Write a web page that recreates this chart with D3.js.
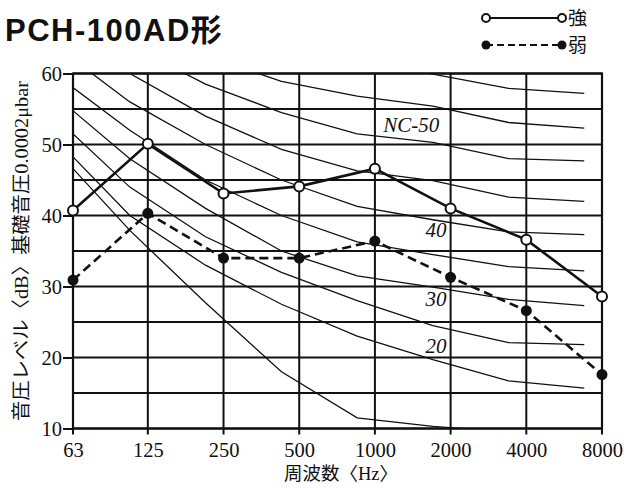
<!DOCTYPE html>
<html>
<head>
<meta charset="utf-8">
<script src="https://cdn.jsdelivr.net/npm/d3@7"></script>
<style>
  html, body { margin: 0; padding: 0; background: #ffffff; }
  svg { display: block; }
</style>
</head>
<body>
<svg id="chart" width="628" height="488"></svg>
<script>
// ---------- data ----------
const freqTicks = [63, 125, 250, 500, 1000, 2000, 4000, 8000];
const freqTickLabels = ["63", "125", "250", "500", "1000", "2000", "4000", "8000"];
const dbTicks = [10, 20, 30, 40, 50, 60];
const dbGrid = [15, 25, 35, 45, 55];

const seriesNames = ["強", "弱"];
const strongValues = [40.7, 50.1, 43.1, 44.1, 46.6, 41.0, 36.6, 28.6];
const weakValues   = [30.9, 40.3, 34.0, 34.0, 36.4, 31.3, 26.6, 17.6];

// NC curves (plotted at old octave-band centre frequencies)
const ncFreqs = [53, 106, 212, 425, 850, 1700, 3400, 6800];
const nc60 = [78, 72, 67, 64, 62, 59.9, 57.9, 57.2];
const nc55 = [74, 67, 62.5, 58.9, 56.8, 55.4, 53.1, 52.3];
const nc50 = [71, 64, 58.5, 54.5, 51.5, 50.3, 48.0, 47.7];
const nc45 = [67, 60, 54, 49.3, 46.3, 44.9, 42.6, 42.0];
const nc40 = [64, 56, 50, 45, 41.3, 39.4, 37.7, 37.3];
const nc35 = [60, 52, 45, 40, 36.3, 34.5, 32.8, 32.2];
const nc30 = [57, 48, 41, 35, 31.5, 29.9, 28.2, 27.3];
const nc25 = [54, 44, 37, 32, 28, 24.5, 22.1, 21.8];
const nc20 = [51, 40, 33, 27.5, 23, 19.7, 16.7, 15.7];
const ncLow = [49.5, 37.9, 27.7, 18, 11.5, 10.3, 9.5, 9];
const ncCurves = [nc60, nc55, nc50, nc45, nc40, nc35, nc30, nc25, nc20, ncLow];

const ncLabelTexts = ["NC-50", "40", "30", "20"];
const ncLabelFreqs = [1080, 1590, 1590, 1590];
const ncLabelDbs   = [51.7, 37.0, 27.2, 20.7];

const yTitle = "音圧レベル〈dB〉基礎音圧0.0002μbar";
const xTitle = "周波数〈Hz〉";
const chartTitle = "PCH-100AD形";

// ---------- layout ----------
const svg = d3.select("#chart");
const L = 73, R = 602, T = 73.5, B = 428.5;

const x = d3.scaleLog().domain([63, 8000]).range([L, R]);
const y = d3.scaleLinear().domain([10, 60]).range([B, T]);

const serif = "'Liberation Serif', 'Times New Roman', 'Noto Sans CJK JP', serif";

svg.append("rect").attr("width", 628).attr("height", 488).attr("fill", "#fff");

// clip
svg.append("clipPath").attr("id", "plotclip")
  .append("rect").attr("x", L).attr("y", T).attr("width", R - L).attr("height", B - T);

// horizontal grid lines (every 5 dB)
svg.append("g").selectAll("line").data(dbGrid.concat(dbTicks)).join("line")
  .attr("x1", L).attr("x2", R)
  .attr("y1", d => y(d)).attr("y2", d => y(d))
  .attr("stroke", "#111").attr("stroke-width", 1.8);

// vertical grid lines (octave bands), extending slightly below axis
svg.append("g").selectAll("line").data(freqTicks).join("line")
  .attr("x1", d => x(d)).attr("x2", d => x(d))
  .attr("y1", T).attr("y2", B + 6)
  .attr("stroke", "#111").attr("stroke-width", 2);

// frame
svg.append("rect").attr("x", L).attr("y", T).attr("width", R - L).attr("height", B - T)
  .attr("fill", "none").attr("stroke", "#111").attr("stroke-width", 2.2);

// y ticks (left)
const yAxis = d3.axisLeft(y).tickValues(dbTicks).tickSize(10).tickPadding(1);
const gy = svg.append("g").attr("transform", `translate(${L},0)`).call(yAxis);
gy.select(".domain").remove();
gy.selectAll(".tick line").attr("stroke", "#111").attr("stroke-width", 2);
gy.selectAll(".tick text").attr("font-family", serif).attr("font-size", 20.5)
  .attr("fill", "#111").attr("dy", "0.34em");

// x tick labels
const xAxis = d3.axisBottom(x).tickValues(freqTicks).tickFormat((d, i) => freqTickLabels[i]).tickSize(0).tickPadding(0);
const gx = svg.append("g").attr("transform", `translate(0,${B})`).call(xAxis);
gx.select(".domain").remove();
gx.selectAll(".tick text").attr("font-family", serif).attr("font-size", 20.5)
  .attr("fill", "#111").attr("dy", "0").attr("y", 28);

// NC curves
const ncLine = d3.line().x((d, i) => x(ncFreqs[i])).y(d => y(d));
svg.append("g").attr("clip-path", "url(#plotclip)").selectAll("path").data(ncCurves).join("path")
  .attr("d", d => ncLine(d))
  .attr("fill", "none").attr("stroke", "#111").attr("stroke-width", 1.3);

// NC labels
svg.append("g").selectAll("text").data(ncLabelTexts).join("text")
  .attr("x", (d, i) => x(ncLabelFreqs[i]))
  .attr("y", (d, i) => y(ncLabelDbs[i]))
  .attr("font-family", serif).attr("font-style", "italic").attr("font-size", 21)
  .attr("fill", "#111")
  .text(d => d);

// data lines
const dataLine = d3.line().x((d, i) => x(freqTicks[i])).y(d => y(d));
svg.append("path").attr("d", dataLine(weakValues))
  .attr("fill", "none").attr("stroke", "#111").attr("stroke-width", 2.6)
  .attr("stroke-dasharray", "9,5");
svg.append("path").attr("d", dataLine(strongValues))
  .attr("fill", "none").attr("stroke", "#111").attr("stroke-width", 2.6);

svg.append("g").selectAll("circle").data(weakValues).join("circle")
  .attr("cx", (d, i) => x(freqTicks[i])).attr("cy", d => y(d)).attr("r", 5.5)
  .attr("fill", "#111");
svg.append("g").selectAll("circle").data(strongValues).join("circle")
  .attr("cx", (d, i) => x(freqTicks[i])).attr("cy", d => y(d)).attr("r", 5)
  .attr("fill", "#fff").attr("stroke", "#111").attr("stroke-width", 2);

// title
svg.append("text").attr("x", 5).attr("y", 41)
  .attr("font-family", "'Liberation Sans', Arial, 'Noto Sans CJK JP', sans-serif")
  .attr("font-weight", "bold").attr("font-size", 31).attr("letter-spacing", 1.5).attr("fill", "#111")
  .text(chartTitle);

// legend
const legend = svg.append("g");
const legRows = [18, 45];
legend.append("line").attr("x1", 486).attr("x2", 562).attr("y1", legRows[0]).attr("y2", legRows[0])
  .attr("stroke", "#111").attr("stroke-width", 2.2);
legend.append("line").attr("x1", 486).attr("x2", 562).attr("y1", legRows[1]).attr("y2", legRows[1])
  .attr("stroke", "#111").attr("stroke-width", 2.2).attr("stroke-dasharray", "7,4");
[486, 562].forEach(cx => {
  legend.append("circle").attr("cx", cx).attr("cy", legRows[0]).attr("r", 4)
    .attr("fill", "#fff").attr("stroke", "#111").attr("stroke-width", 2);
  legend.append("circle").attr("cx", cx).attr("cy", legRows[1]).attr("r", 4.5).attr("fill", "#111");
});
legend.selectAll("text").data(seriesNames).join("text")
  .attr("x", 568).attr("y", (d, i) => legRows[i] + 7)
  .attr("font-family", "'Noto Sans CJK JP', sans-serif").attr("font-size", 19).attr("fill", "#111")
  .text(d => d);

// axis titles (rotated, reading bottom-to-top)
svg.append("text")
  .attr("transform", "translate(28,421) rotate(-90)")
  .attr("text-anchor", "start")
  .attr("textLength", 340).attr("lengthAdjust", "spacingAndGlyphs")
  .attr("font-family", serif).attr("font-size", 19).attr("fill", "#111")
  .text(yTitle);

svg.append("text").attr("x", 341).attr("y", 480).attr("text-anchor", "middle")
  .attr("font-family", serif).attr("font-size", 18.5).attr("fill", "#111")
  .text(xTitle);
</script>
</body>
</html>
